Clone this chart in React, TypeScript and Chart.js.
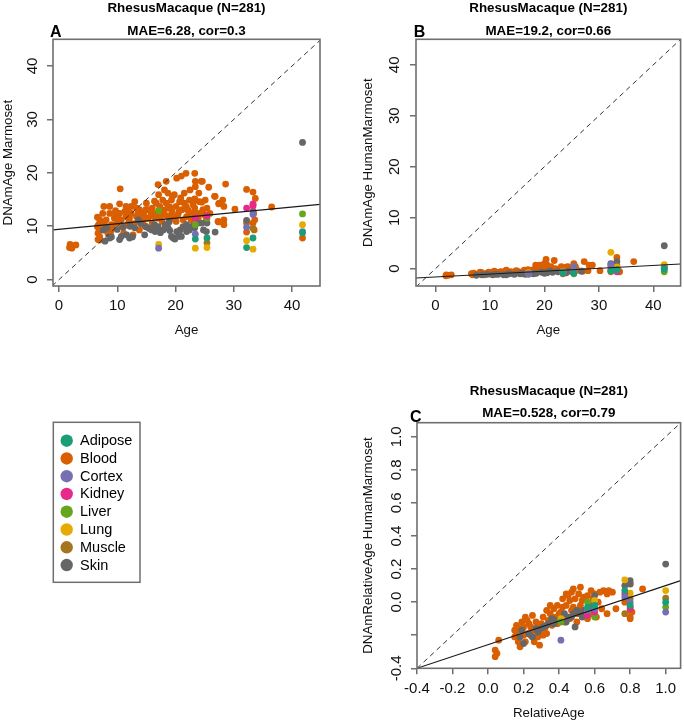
import React, { useEffect, useRef } from 'react';
import { Chart, registerables } from 'chart.js';

Chart.register(...registerables);

// ---------- categories ----------
const tissues = ['Adipose', 'Blood', 'Cortex', 'Kidney', 'Liver', 'Lung', 'Muscle', 'Skin'];
const tissueColors = ['#1B9E77', '#D95F02', '#7570B3', '#E7298A', '#66A61E', '#E6AB02', '#A6761D', '#666666'];

// ---------- panel A: Age vs DNAmAge Marmoset ----------
const aAdipose = [[23.4, 7.6], [25.4, 7.8], [32.2, 6.0], [33.3, 7.8], [41.8, 8.8]];
const aBlood = [
  [1.9, 6.6], [2.2, 5.9], [2.9, 6.5], [1.8, 6.0], [2.3, 6.3],
  [6.6, 11.7], [6.6, 9.9], [6.7, 8.7], [7.0, 7.4], [7.5, 9.3], [7.7, 13.7], [8.1, 11.2], [8.4, 8.7], [8.7, 12.4], [9.0, 10.3],
  [9.5, 11.5], [9.7, 12.9], [10.5, 17.0], [10.4, 14.2], [10.4, 12.4], [10.7, 11.2], [11.3, 12.8], [11.5, 11.8], [11.1, 8.7],
  [12.0, 10.9], [12.4, 12.4], [12.7, 8.4], [13.0, 14.6], [13.3, 11.8], [13.8, 9.3], [14.3, 12.4], [14.4, 10.9], [14.9, 13.1],
  [15.3, 11.5], [15.5, 9.6], [16.0, 13.4], [16.3, 11.8], [16.7, 14.3], [17.0, 17.8], [17.1, 15.9], [17.4, 12.4], [17.7, 10.9],
  [18.1, 16.8], [18.4, 18.4], [18.4, 14.3], [18.7, 13.4], [19.0, 11.8], [19.3, 14.9], [19.4, 12.8], [19.8, 15.9], [20.1, 13.7],
  [20.2, 19.0], [20.7, 14.6], [21.0, 19.4], [21.1, 13.1], [21.5, 16.2], [21.8, 19.9], [21.9, 11.8], [22.4, 14.9], [22.8, 12.4],
  [23.3, 19.9], [23.4, 18.4], [23.4, 17.4], [23.4, 14.9], [23.3, 13.4], [24.0, 16.2], [24.4, 18.4], [24.7, 13.1], [25.1, 14.9],
  [25.4, 13.4], [25.7, 17.3], [25.9, 12.4], [26.7, 15.6], [27.3, 10.9], [27.5, 14.3], [28.1, 14.9], [28.2, 10.9], [28.6, 17.9],
  [30.2, 13.2], [32.2, 16.9], [32.2, 10.6], [32.2, 8.9], [33.3, 16.4], [33.3, 14.0], [33.4, 12.4], [33.6, 11.2], [33.3, 10.6],
  [33.5, 9.3], [33.7, 15.2], [36.5, 13.6], [41.8, 7.8],
  [13.8, 13.1], [12.4, 13.7], [15.8, 12.4], [16.7, 12.4], [17.8, 14.9], [19.5, 11.8], [20.4, 12.1], [21.5, 14.3], [19.5, 15.6],
  [18.7, 16.2], [21.8, 13.7], [24.1, 12.4], [25.3, 11.2], [24.1, 14.6], [17.3, 13.7], [15.0, 14.3], [9.8, 12.4], [8.7, 13.7],
  [7.5, 12.4], [7.0, 11.2], [11.5, 13.7], [13.3, 13.4], [14.1, 11.8], [15.3, 13.1], [20.1, 10.9], [21.3, 11.2], [22.7, 11.2],
  [23.5, 12.4], [23.0, 14.0], [24.5, 14.5], [27.4, 14.2], [28.3, 13.7], [27.4, 10.8], [28.3, 11.2], [28.3, 10.3], [26.8, 15.6],
  [24.6, 18.4], [23.3, 15.1], [6.7, 7.5], [7.0, 8.0], [9.2, 9.8], [10.0, 10.6], [11.8, 10.2], [12.9, 10.5], [14.8, 10.0],
  [16.0, 10.5], [17.0, 11.5], [18.5, 12.0], [19.9, 11.3], [22.2, 12.9], [23.9, 11.6], [25.0, 12.1], [8.0, 10.0], [8.9, 9.0],
  [10.9, 10.0], [12.1, 11.5], [13.6, 12.6], [16.4, 14.7], [18.0, 13.0], [19.0, 13.6], [20.6, 12.7], [22.0, 13.2], [7.3, 10.6],
  [6.8, 10.3], [10.1, 11.6], [11.9, 12.9], [14.6, 12.0], [17.5, 12.0], [20.9, 15.3], [22.5, 16.8]
];
const aCortex = [[17.1, 5.9], [23.4, 8.5], [32.2, 9.8], [33.3, 12.2], [41.8, 9.0]];
const aKidney = [[23.4, 11.5], [25.4, 11.9], [32.2, 13.4], [33.3, 13.8], [33.3, 14.2]];
const aLiver = [[17.1, 12.9], [23.4, 10.3], [25.4, 11.5], [41.8, 12.3]];
const aLung = [[17.1, 6.6], [23.4, 5.9], [25.4, 6.0], [32.2, 7.3], [33.3, 5.7], [41.8, 10.3]];
const aMuscle = [[25.4, 6.9], [33.3, 9.6]];
const aSkin = [
  [7.6, 9.3], [7.9, 7.2], [8.7, 7.8], [10.4, 7.5], [10.7, 8.1], [11.6, 8.4], [12.1, 7.8], [13.0, 9.7], [13.6, 11.2], [14.7, 8.4],
  [14.9, 9.9], [15.9, 9.3], [16.4, 10.3], [17.0, 9.9], [17.9, 9.3], [18.2, 10.3], [18.7, 9.7], [19.3, 8.1], [19.6, 7.8], [20.2, 9.0],
  [20.8, 9.3], [21.3, 9.9], [21.9, 9.0], [19.9, 7.6], [21.9, 10.3], [22.4, 9.3], [23.3, 9.7], [23.9, 10.6], [24.5, 10.6], [24.8, 9.3],
  [25.3, 9.0], [25.4, 10.6], [26.8, 8.9], [32.2, 11.1], [33.3, 12.8], [41.8, 25.7], [9.0, 8.0], [11.0, 9.8], [12.2, 10.0], [14.0, 10.5],
  [16.5, 9.0], [18.9, 10.8], [20.5, 8.1], [21.0, 8.1], [22.9, 10.0], [8.2, 9.6], [10.0, 9.4], [12.6, 8.0], [15.4, 9.6], [17.4, 8.8], [19.0, 9.2]
];
const aXRange = [-1.03, 44.8];
const aYRange = [-1.19, 45.0];
const aFitY = [9.3, 14.1];

// ---------- panel B: Age vs DNAmAge HumanMarmoset ----------
const bAdipose = [[23.4, -0.8], [25.4, -0.9], [32.2, -0.4], [33.3, -0.2], [42.0, -0.1]];
const bBlood = [
  [1.9, -1.4], [2.3, -1.3], [2.9, -1.2], [2.0, -1.2],
  [6.6, -1.0], [6.8, -1.2], [7.0, -0.9], [7.5, -1.1], [8.0, -1.0], [8.5, -0.8], [9.0, -1.2], [9.5, -0.9], [10.0, -1.0], [10.5, -0.8],
  [10.8, -0.5], [11.2, -1.0], [11.8, -0.7], [12.3, -0.9], [12.8, -0.5], [13.3, -0.8], [13.8, -0.6], [14.3, -1.0], [14.8, -0.4],
  [15.3, -0.7], [15.8, -0.9], [16.3, -0.3], [16.8, -0.6], [17.0, -0.2], [17.5, -0.4], [18.0, -0.2], [18.5, 0.1], [19.0, -0.5],
  [19.5, 0.3], [20.0, -0.1], [20.5, -0.4], [21.0, 0.2], [21.5, -0.3], [22.0, 0.0], [22.5, -0.5], [23.0, 0.1], [23.5, -0.2],
  [24.0, 0.3], [24.5, -0.3], [25.0, 0.0], [25.5, -0.2],
  [18.4, 0.7], [20.3, 1.8], [21.8, 1.6], [19.1, 0.7], [20.0, 1.0], [20.6, 0.4], [20.5, 0.7], [21.2, 0.4], [21.9, -0.3], [23.1, 0.4],
  [24.3, 0.4], [25.4, 1.0], [25.7, 0.4], [27.3, 1.4], [28.2, 0.7], [28.8, 0.7], [30.2, -0.4], [33.3, 2.2], [33.3, 0.7], [33.8, -0.6],
  [36.4, 1.4], [42.0, 0.4], [32.2, -0.3], [26.0, -0.3], [27.0, -0.5], [28.0, -0.4], [33.5, -0.2],
  [12.0, -0.6], [13.0, -0.3], [14.0, -0.8], [15.0, -0.5], [16.0, -0.6], [17.2, -0.7], [18.2, -0.5], [19.3, -0.2], [20.8, -0.1],
  [22.2, -0.2], [23.8, 0.0], [9.8, -0.7], [8.2, -0.7], [11.0, -0.7]
];
const bCortex = [[17.1, -1.0], [23.4, -0.7], [25.4, 0.4], [32.2, 0.8], [33.3, -0.3], [42.0, 0.1]];
const bKidney = [[23.4, -0.9], [25.4, -0.7], [32.2, 0.4], [33.3, -0.6], [33.3, -0.4]];
const bLiver = [[17.1, -1.1], [23.4, -1.0], [25.4, -1.0], [42.0, -0.6]];
const bLung = [[17.1, -0.8], [23.4, -0.6], [25.4, -0.5], [32.2, 3.2], [33.3, 0.3], [42.0, 0.8]];
const bMuscle = [[25.4, -0.7], [32.2, -0.6], [33.3, 0.4], [42.0, 0.4]];
const bSkin = [
  [7.5, -1.3], [8.5, -1.2], [9.5, -1.1], [10.5, -1.2], [11.5, -1.1], [12.5, -1.2], [13.5, -1.0], [14.5, -1.1], [15.5, -1.0],
  [16.5, -1.1], [17.5, -0.9], [18.5, -0.9], [19.5, -0.7], [20.5, -0.8], [21.5, -0.7], [22.5, -0.6], [23.5, -0.6], [24.5, -0.5],
  [25.2, -0.6], [26.8, -0.5], [32.2, 1.0], [33.3, 1.4], [42.0, 4.5], [11.0, -1.1], [13.0, -1.2], [16.0, -1.0], [18.0, -1.0],
  [20.0, -0.9], [21.0, -0.5], [24.0, -0.8], [25.4, -0.3]
];
const bXRange = [-3.58, 45.0];
const bYRange = [-3.4, 45.0];
const bFitY = [-1.83, 0.92];

// ---------- panel C: RelativeAge vs DNAmRelativeAge HumanMarmoset ----------
const cAdipose = [[0.56, -0.03], [0.60, -0.02], [0.77, 0.07], [0.80, -0.02], [1.0, 0.0]];
const cBlood = [
  [0.04, -0.29], [0.04, -0.33], [0.05, -0.31], [0.06, -0.23],
  [0.16, -0.14], [0.16, -0.18], [0.17, -0.21], [0.18, -0.16], [0.21, -0.09], [0.22, -0.19], [0.23, -0.13], [0.25, -0.08],
  [0.26, -0.17], [0.28, -0.21], [0.29, -0.26], [0.30, -0.13], [0.31, -0.09], [0.32, -0.16], [0.34, -0.11], [0.35, -0.07],
  [0.18, -0.27], [0.21, -0.24], [0.15, -0.21],
  [0.37, -0.04], [0.39, -0.13], [0.40, -0.07], [0.42, -0.03], [0.44, 0.05], [0.45, -0.09], [0.46, 0.01], [0.48, 0.08],
  [0.48, -0.03], [0.50, -0.07], [0.51, 0.05], [0.52, 0.09], [0.53, 0.01], [0.55, -0.07], [0.56, 0.04], [0.58, 0.07],
  [0.58, -0.07], [0.60, 0.05], [0.61, -0.09], [0.65, 0.07], [0.67, 0.05], [0.68, 0.07], [0.67, -0.07], [0.72, -0.04],
  [0.87, 0.08], [0.80, -0.09], [0.80, -0.05], [0.81, -0.06], [0.80, 0.11], [0.77, 0.0], [0.80, -0.1],
  [0.19, -0.12], [0.20, -0.2], [0.24, -0.15], [0.27, -0.12], [0.29, -0.18], [0.33, -0.19], [0.36, -0.14], [0.38, -0.09],
  [0.41, -0.06], [0.43, -0.12], [0.44, -0.02], [0.47, -0.05], [0.49, 0.02], [0.50, -0.12], [0.53, -0.05], [0.54, 0.03],
  [0.57, -0.02], [0.59, 0.02], [0.62, 0.0], [0.64, -0.04], [0.26, -0.24], [0.17, -0.24], [0.22, -0.11], [0.31, -0.2],
  [0.35, -0.02], [0.46, -0.1], [0.42, 0.02], [0.20, -0.15], [0.28, -0.14], [0.39, -0.02], [0.47, 0.06], [0.56, -0.1],
  [0.63, 0.06], [0.70, 0.06], [0.15, -0.17], [0.24, -0.2], [0.33, -0.05], [0.45, 0.04], [0.52, -0.02]
];
const cCortex = [[0.41, -0.23], [0.56, -0.05], [0.60, -0.04], [0.77, 0.03], [0.80, 0.0], [1.0, -0.06]];
const cKidney = [[0.56, -0.08], [0.60, -0.06], [0.77, 0.05], [0.80, -0.03], [0.80, -0.04]];
const cLiver = [[0.41, -0.12], [0.56, 0.0], [0.60, -0.09], [1.0, -0.03]];
const cLung = [[0.41, -0.1], [0.56, -0.06], [0.60, 0.01], [0.77, 0.135], [0.80, 0.054], [1.0, 0.07]];
const cMuscle = [[0.60, -0.08], [0.77, -0.07], [0.80, 0.02], [1.0, 0.024]];
const cSkin = [
  [0.18, -0.21], [0.20, -0.25], [0.25, -0.21], [0.28, -0.18], [0.30, -0.16], [0.31, -0.15], [0.34, -0.13], [0.37, -0.13],
  [0.41, -0.11], [0.43, -0.07], [0.45, -0.09], [0.48, -0.07], [0.49, -0.15], [0.52, -0.07], [0.54, -0.05], [0.57, -0.03],
  [0.59, -0.05], [0.60, 0.04], [0.60, 0.00], [0.77, 0.10], [0.80, 0.13], [0.80, 0.11], [1.0, 0.23], [0.19, -0.17],
  [0.23, -0.19], [0.27, -0.16], [0.33, -0.14], [0.36, -0.1], [0.39, -0.11], [0.44, -0.12], [0.47, -0.09], [0.50, -0.05],
  [0.53, -0.09], [0.56, -0.06]
];
const cXRange = [-0.4, 1.084];
const cYRange = [-0.4, 1.085];
const cFitY = [-0.4, 0.13];

// ---------- ticks ----------
const ageTicks = [0, 10, 20, 30, 40];
const ageTickLabels = ['0', '10', '20', '30', '40'];
const relTicks = [-0.4, -0.2, 0.0, 0.2, 0.4, 0.6, 0.8, 1.0];
const relXTickLabels = ['-0.4', '-0.2', '0.0', '0.2', '0.4', '0.6', '0.8', '1.0'];
const relYTickLabels = ['-0.4', '', '0.0', '0.2', '0.4', '0.6', '0.8', '1.0'];

const FONT = '"Liberation Sans", Arial, Helvetica, sans-serif';
const FRAME = '#6f6f6f';

type Panel = {
  series: number[][][];
  xRange: number[];
  yRange: number[];
  fitY: number[];
  xTicks: number[];
  xLabels: string[];
  yTicks: number[];
  yLabels: string[];
  xTitle: string;
  yTitle: string;
  title: string;
  sub: string;
  letter: string;
  // layout
  area: { left: number; top: number; right: number; bottom: number };
  yAxisW: number;
  yTickPad: number;
  yTitlePad: number;
  letterX: number;
  letterY: number;
  titleY: number;
  subY: number;
  legend?: boolean;
};

const panels: Panel[] = [
  {
    series: [aAdipose, aBlood, aCortex, aKidney, aLiver, aLung, aMuscle, aSkin],
    xRange: aXRange, yRange: aYRange, fitY: aFitY,
    xTicks: ageTicks, xLabels: ageTickLabels, yTicks: ageTicks, yLabels: ageTickLabels,
    xTitle: 'Age', yTitle: 'DNAmAge Marmoset',
    title: 'RhesusMacaque (N=281)', sub: 'MAE=6.28, cor=0.3', letter: 'A',
    area: { left: 53, top: 39.3, right: 320, bottom: 286 },
    yAxisW: 53, yTickPad: 6.2, yTitlePad: 0, letterX: 50, letterY: 37.3, titleY: 12, subY: 34.5, legend: true
  },
  {
    series: [bAdipose, bBlood, bCortex, bKidney, bLiver, bLung, bMuscle, bSkin],
    xRange: bXRange, yRange: bYRange, fitY: bFitY,
    xTicks: ageTicks, xLabels: ageTickLabels, yTicks: ageTicks, yLabels: ageTickLabels,
    xTitle: 'Age', yTitle: 'DNAmAge HumanMarmoset',
    title: 'RhesusMacaque (N=281)', sub: 'MAE=19.2, cor=0.66', letter: 'B',
    area: { left: 416, top: 39.3, right: 683, bottom: 286 },
    yAxisW: 56, yTickPad: 6.6, yTitlePad: 0.7, letterX: 413.7, letterY: 37.3, titleY: 12, subY: 34.5
  },
  {
    series: [cAdipose, cBlood, cCortex, cKidney, cLiver, cLung, cMuscle, cSkin],
    xRange: cXRange, yRange: cYRange, fitY: cFitY,
    xTicks: relTicks, xLabels: relXTickLabels, yTicks: relTicks, yLabels: relYTickLabels,
    xTitle: 'RelativeAge', yTitle: 'DNAmRelativeAge HumanMarmoset',
    title: 'RhesusMacaque (N=281)', sub: 'MAE=0.528, cor=0.79', letter: 'C',
    area: { left: 417, top: 422.7, right: 683, bottom: 668.3 },
    yAxisW: 57, yTickPad: 1.1, yTitlePad: 0.7, letterX: 410, letterY: 421.7, titleY: 394.5, subY: 416.5
  }
];

const W = 684;
const H = 724;
const X_AXIS_H = 55;

// draw order: Blood lowest, Skin above, others on top
const tissueOrder = [2, 10, 2, 2, 2, 2, 2, 5];

function buildConfig(p: Panel): any {
  const datasets: any[] = p.series.map((pts, i) => ({
    type: 'scatter',
    label: tissues[i],
    data: pts.map(([x, y]) => ({ x, y })),
    backgroundColor: tissueColors[i],
    borderWidth: 0,
    pointRadius: 3.4,
    pointHoverRadius: 3.4,
    order: tissueOrder[i]
  }));
  const lo = Math.min(p.xRange[0], p.yRange[0]);
  const hi = Math.max(p.xRange[1], p.yRange[1]);
  datasets.push({
    type: 'line',
    label: 'identity',
    data: [{ x: lo, y: lo }, { x: hi, y: hi }],
    borderColor: '#333',
    borderWidth: 1,
    borderDash: [5, 4],
    pointRadius: 0,
    fill: false,
    order: 0
  });
  datasets.push({
    type: 'line',
    label: 'fit',
    data: [{ x: p.xRange[0], y: p.fitY[0] }, { x: p.xRange[1], y: p.fitY[1] }],
    borderColor: '#1a1a1a',
    borderWidth: 1.2,
    pointRadius: 0,
    fill: false,
    order: 0
  });

  const decor = {
    id: 'decor' + p.letter,
    afterDatasetsDraw(chart: any) {
      const { ctx, chartArea: a } = chart;
      ctx.save();
      ctx.strokeStyle = FRAME;
      ctx.lineWidth = 1.6;
      ctx.strokeRect(a.left, a.top, a.right - a.left, a.bottom - a.top);
      ctx.fillStyle = '#000';
      ctx.textBaseline = 'alphabetic';
      ctx.textAlign = 'center';
      ctx.font = `bold 13.4px ${FONT}`;
      const cx = (a.left + a.right) / 2;
      ctx.fillText(p.title, cx, p.titleY);
      ctx.fillText(p.sub, cx, p.subY);
      ctx.textAlign = 'left';
      ctx.font = `bold 16px ${FONT}`;
      ctx.fillText(p.letter, p.letterX, p.letterY);

      if (p.legend) {
        ctx.strokeStyle = FRAME;
        ctx.lineWidth = 1.5;
        ctx.strokeRect(53.3, 422.3, 86.7, 160);
        ctx.font = `14.5px ${FONT}`;
        ctx.textBaseline = 'middle';
        tissues.forEach((t, i) => {
          const y = 440.7 + i * 17.76;
          ctx.beginPath();
          ctx.arc(66.7, y, 6.2, 0, Math.PI * 2);
          ctx.fillStyle = tissueColors[i];
          ctx.fill();
          ctx.fillStyle = '#000';
          ctx.fillText(t, 80, y + 0.5);
        });
      }
      ctx.restore();
    }
  };

  const tickFont = { family: FONT, size: 15 };
  const titleFont = { family: FONT, size: 13.3 };

  return {
    type: 'scatter',
    data: { datasets },
    plugins: [decor],
    options: {
      animation: false,
      responsive: false,
      maintainAspectRatio: false,
      devicePixelRatio: 1,
      events: [],
      layout: {
        padding: {
          left: p.area.left - p.yAxisW,
          top: p.area.top,
          right: W - p.area.right,
          bottom: H - p.area.bottom - X_AXIS_H
        }
      },
      plugins: {
        legend: { display: false },
        tooltip: { enabled: false },
        title: { display: false }
      },
      scales: {
        x: {
          type: 'linear',
          position: 'bottom',
          min: p.xRange[0],
          max: p.xRange[1],
          afterBuildTicks: (s: any) => { s.ticks = p.xTicks.map((v) => ({ value: v })); },
          afterFit: (s: any) => { s.height = X_AXIS_H; },
          grid: { display: true, drawOnChartArea: false, drawTicks: true, tickLength: 6, color: FRAME, lineWidth: 1.5 },
          border: { display: false },
          ticks: {
            padding: 5.3,
            color: '#111',
            font: tickFont,
            maxRotation: 0,
            minRotation: 0,
            autoSkip: false,
            callback: (_v: any, i: number) => p.xLabels[i]
          },
          title: { display: true, text: p.xTitle, color: '#111', font: titleFont, padding: { top: 0, bottom: 2.3 } }
        },
        y: {
          type: 'linear',
          position: 'left',
          min: p.yRange[0],
          max: p.yRange[1],
          afterBuildTicks: (s: any) => { s.ticks = p.yTicks.map((v) => ({ value: v })); },
          afterFit: (s: any) => { s.width = p.yAxisW; },
          grid: { display: true, drawOnChartArea: false, drawTicks: true, tickLength: 6, color: FRAME, lineWidth: 1.5 },
          border: { display: false },
          ticks: {
            padding: p.yTickPad,
            color: '#111',
            font: tickFont,
            minRotation: 90,
            maxRotation: 90,
            crossAlign: 'center',
            autoSkip: false,
            callback: (_v: any, i: number) => p.yLabels[i]
          },
          title: { display: true, text: p.yTitle, color: '#111', font: titleFont, padding: { top: p.yTitlePad, bottom: 0 } }
        }
      }
    }
  };
}

function PanelChart({ panel }: { panel: Panel }) {
  const ref = useRef<HTMLCanvasElement | null>(null);
  useEffect(() => {
    if (!ref.current) return;
    const chart = new Chart(ref.current, buildConfig(panel));
    return () => chart.destroy();
  }, [panel]);
  return (
    <canvas
      ref={ref}
      width={W}
      height={H}
      style={{ position: 'absolute', left: 0, top: 0, width: W, height: H }}
    />
  );
}

export default function App() {
  return (
    <div style={{ position: 'absolute', left: 0, top: 0, width: W, height: H, background: '#fff' }}>
      {panels.map((p) => (
        <PanelChart key={p.letter} panel={p} />
      ))}
    </div>
  );
}
